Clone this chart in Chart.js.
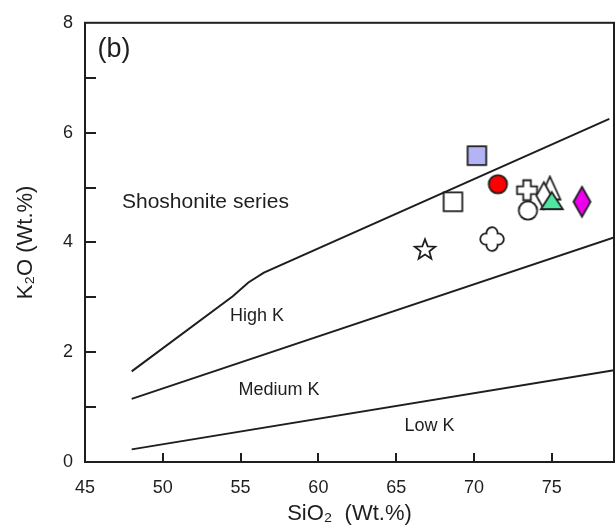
<!DOCTYPE html>
<html>
<head>
<meta charset="utf-8">
<script src="https://cdn.jsdelivr.net/npm/chart.js"></script>
<style>
  html, body { margin: 0; padding: 0; background: #fff; }
  #wrap { width: 616px; height: 529px; }
</style>
</head>
<body>
<div id="wrap"><canvas id="chart" width="616" height="529"></canvas></div>
<script>
// Данные образцов (SiO2, K2O)
const sio2 = [70.19, 71.54, 68.65, 73.41, 73.47, 74.88, 74.49, 75.0, 76.94, 66.85, 71.16];
const k2o  = [5.58, 5.06, 4.74, 4.95, 4.58, 4.99, 4.85, 4.76, 4.74, 3.88, 4.06];

// Границы серий
const shoshoniteX = [48, 54.5, 55.5, 56.5, 78.7];
const shoshoniteY = [1.65, 3.02, 3.27, 3.45, 6.25];
const highKX = [48, 79];
const highKY = [1.15, 4.09];
const lowKX = [48, 79];
const lowKY = [0.23, 1.67];

// Подписи полей
const fieldLabels = ['Shoshonite series', 'High K', 'Medium K', 'Low K'];
const fieldX = [52.74, 56.05, 57.47, 67.14];
const fieldY = [4.74, 2.65, 1.32, 0.66];

const xTicks = [45, 50, 55, 60, 65, 70, 75];
const yTicks = [0, 1, 2, 3, 4, 5, 6, 7, 8];

const INK = '#1e1e1e';
const FONT = '"Liberation Sans", Arial, sans-serif';

// Маркеры рисуем на маленьких canvas
function icon(w, h, draw) {
  const c = document.createElement('canvas');
  c.width = w; c.height = h;
  const g = c.getContext('2d');
  g.lineWidth = 1.8;
  g.strokeStyle = INK;
  g.lineJoin = 'miter';
  draw(g, w / 2, h / 2);
  return c;
}
function poly(g, pts, fill) {
  g.beginPath();
  pts.forEach((p, i) => i ? g.lineTo(p[0], p[1]) : g.moveTo(p[0], p[1]));
  g.closePath();
  g.fillStyle = fill;
  g.fill();
  g.stroke();
}
const square = (fill) => icon(23, 23, (g, cx, cy) => poly(g, [[cx-9.3,cy-9.3],[cx+9.3,cy-9.3],[cx+9.3,cy+9.3],[cx-9.3,cy+9.3]], fill));
const circle = (fill) => icon(23, 23, (g, cx, cy) => {
  g.beginPath(); g.arc(cx, cy, 9.2, 0, Math.PI * 2);
  g.fillStyle = fill; g.fill(); g.stroke();
});
const diamond = (fill, w, h) => icon(w + 4, h + 4, (g, cx, cy) =>
  poly(g, [[cx, cy-h/2],[cx+w/2, cy],[cx, cy+h/2],[cx-w/2, cy]], fill));
const triangle = (fill, w, h) => icon(w + 4, h + 4, (g, cx, cy) =>
  poly(g, [[cx, cy-h/2],[cx+w/2, cy+h/2],[cx-w/2, cy+h/2]], fill));
const plus = icon(25, 25, (g, cx, cy) => {
  const a = 10, b = 3.8;
  poly(g, [[cx-b,cy-a],[cx+b,cy-a],[cx+b,cy-b],[cx+a,cy-b],[cx+a,cy+b],[cx+b,cy+b],
           [cx+b,cy+a],[cx-b,cy+a],[cx-b,cy+b],[cx-a,cy+b],[cx-a,cy-b],[cx-b,cy-b]], '#fff');
});
const star = icon(26, 26, (g, cx, cy) => {
  const pts = [];
  for (let i = 0; i < 10; i++) {
    const r = i % 2 ? 4.6 : 10.8;
    const a = -Math.PI / 2 + i * Math.PI / 5;
    pts.push([cx + r * Math.cos(a), cy + 1 + r * Math.sin(a)]);
  }
  poly(g, pts, '#fff');
});
const quatrefoil = icon(28, 28, (g, cx, cy) => {
  const d = 6.2, r = 5.6;
  const t = (d + Math.sqrt(2 * r * r - d * d)) / 2;
  const half = Math.atan2(t, t - d);
  g.beginPath();
  for (let k = 0; k < 4; k++) {
    const dir = k * Math.PI / 2;
    const ox = cx + d * Math.cos(dir), oy = cy + d * Math.sin(dir);
    g.arc(ox, oy, r, dir - half, dir + half);
  }
  g.closePath();
  g.fillStyle = '#fff'; g.fill(); g.stroke();
});

const markers = [
  square('#b3b3f5'), circle('#ff0000'), square('#fff'), plus, circle('#fff'),
  triangle('#fff', 21, 23), diamond('#fff', 15, 27), triangle('#50e6a0', 22, 17),
  diamond('#ee00ee', 17, 30), star, quatrefoil
];

const toPts = (xs, ys) => xs.map((x, i) => ({ x: x, y: ys[i] }));
const lineSet = (xs, ys) => ({
  type: 'line', data: toPts(xs, ys), borderColor: INK, borderWidth: 2,
  pointRadius: 0, fill: false, tension: 0, order: 10
});

// Рамка, внутренние засечки и подписи полей
const decor = {
  id: 'decor',
  afterDatasetsDraw(chart) {
    const { ctx, chartArea: a, scales: { x, y } } = chart;
    ctx.save();
    ctx.strokeStyle = INK;
    ctx.lineWidth = 2;
    ctx.strokeRect(a.left, a.top, a.right - a.left, a.bottom - a.top);
    ctx.beginPath();
    xTicks.slice(1).forEach(v => {
      const px = Math.round(x.getPixelForValue(v));
      ctx.moveTo(px, a.bottom); ctx.lineTo(px, a.bottom - 9);
    });
    yTicks.slice(1, -1).forEach(v => {
      const py = Math.round(y.getPixelForValue(v));
      ctx.moveTo(a.left, py); ctx.lineTo(a.left + 11, py);
    });
    ctx.stroke();

    ctx.fillStyle = INK;
    ctx.textBaseline = 'middle';
    ctx.textAlign = 'left';
    ctx.font = '27px ' + FONT;
    ctx.fillText('(b)', x.getPixelForValue(45.8), y.getPixelForValue(7.52));
    ctx.textAlign = 'center';
    fieldLabels.forEach((t, i) => {
      ctx.font = (i === 0 ? '21px ' : '18px ') + FONT;
      ctx.fillText(t, x.getPixelForValue(fieldX[i]), y.getPixelForValue(fieldY[i]));
    });
    ctx.restore();
  }
};

new Chart(document.getElementById('chart'), {
  type: 'scatter',
  data: {
    datasets: [
      {
        data: toPts(sio2, k2o),
        pointStyle: markers,
        pointRadius: 6,
        pointHoverRadius: 6,
        order: 0
      },
      lineSet(shoshoniteX, shoshoniteY),
      lineSet(highKX, highKY),
      lineSet(lowKX, lowKY)
    ]
  },
  options: {
    responsive: false,
    animation: false,
    events: [],
    layout: { autoPadding: false, padding: { top: 13, right: 2, left: 0, bottom: 0 } },
    plugins: { legend: { display: false }, tooltip: { enabled: false } },
    scales: {
      x: {
        type: 'linear', min: 45, max: 79,
        afterBuildTicks: s => { s.ticks = xTicks.map(v => ({ value: v })); },
        afterFit: s => { s.height = 67; s.paddingLeft = 0; s.paddingRight = 0; },
        grid: { display: false, drawTicks: false },
        border: { display: false },
        ticks: { color: INK, font: { family: FONT, size: 18 }, padding: 15, maxRotation: 0, autoSkip: false },
        title: { display: true, text: 'SiO\u2082  (Wt.%)', color: INK, font: { family: FONT, size: 22 }, padding: { top: 0, bottom: 2 } }
      },
      y: {
        type: 'linear', min: 0, max: 8,
        afterBuildTicks: s => { s.ticks = yTicks.map(v => ({ value: v })); },
        afterFit: s => { s.width = 85; },
        grid: { display: false, drawTicks: false },
        border: { display: false },
        ticks: { color: INK, font: { family: FONT, size: 18 }, padding: 12,
                 callback: v => (v % 2 === 0 ? v : '') },
        title: { display: true, text: 'K\u2082O (Wt.%)', color: INK, font: { family: FONT, size: 22 }, padding: { top: 13, bottom: 0 } }
      }
    }
  },
  plugins: [decor]
});
</script>
</body>
</html>
